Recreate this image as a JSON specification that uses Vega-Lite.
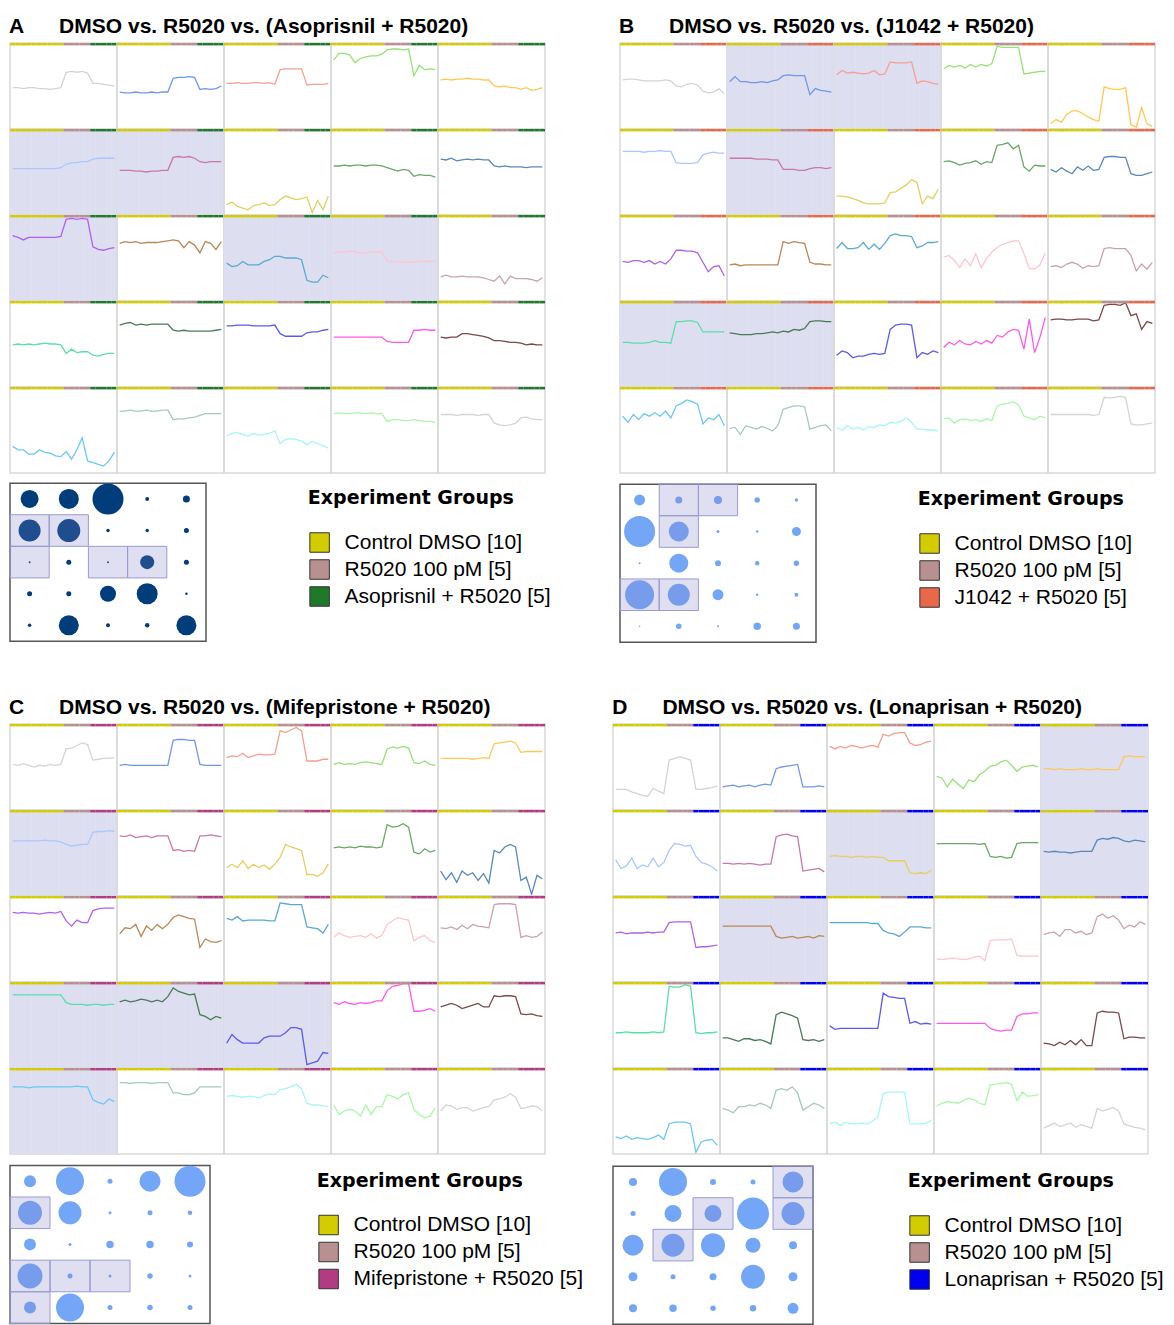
{
  "$schema": "https://vega.github.io/schema/vega-lite/v6.json",
  "background": "white",
  "padding": {"left": 8, "top": 15, "right": 0, "bottom": 0},
  "config": {
    "font": "Liberation Sans",
    "view": {"stroke": "#d9d9d9", "strokeWidth": 1.5},
    "title": {"color": "#000000"}
  },
  "datasets": {
    "spark": [
      {"p":"A","r":0,"c":0,"k":0,"h":0,"v":[0.48,0.48,0.47,0.48,0.48,0.47,0.47,0.46,0.47,0.48,0.66,0.67,0.66,0.67,0.65,0.53,0.53,0.52,0.51,0.50]},
      {"p":"A","r":0,"c":1,"k":1,"h":0,"v":[0.43,0.42,0.42,0.43,0.42,0.42,0.43,0.42,0.43,0.43,0.59,0.60,0.60,0.61,0.60,0.46,0.47,0.46,0.47,0.50]},
      {"p":"A","r":0,"c":2,"k":2,"h":0,"v":[0.53,0.53,0.54,0.53,0.53,0.54,0.54,0.53,0.54,0.52,0.69,0.70,0.70,0.70,0.70,0.51,0.52,0.52,0.52,0.53]},
      {"p":"A","r":0,"c":3,"k":3,"h":0,"v":[0.80,0.88,0.88,0.86,0.77,0.82,0.84,0.85,0.85,0.87,0.92,0.93,0.93,0.92,0.93,0.62,0.74,0.69,0.70,0.69]},
      {"p":"A","r":0,"c":4,"k":4,"h":0,"v":[0.57,0.58,0.57,0.58,0.58,0.59,0.58,0.58,0.57,0.57,0.50,0.49,0.50,0.48,0.48,0.46,0.48,0.45,0.46,0.48]},
      {"p":"A","r":1,"c":0,"k":5,"h":1,"v":[0.54,0.54,0.54,0.54,0.54,0.54,0.54,0.54,0.54,0.55,0.59,0.61,0.61,0.62,0.62,0.65,0.66,0.66,0.66,0.66]},
      {"p":"A","r":1,"c":1,"k":6,"h":1,"v":[0.52,0.52,0.52,0.51,0.51,0.50,0.51,0.51,0.52,0.52,0.67,0.68,0.67,0.68,0.66,0.62,0.61,0.62,0.62,0.62]},
      {"p":"A","r":1,"c":2,"k":7,"h":0,"v":[0.12,0.15,0.10,0.08,0.06,0.11,0.12,0.14,0.11,0.12,0.18,0.22,0.20,0.18,0.19,0.21,0.03,0.17,0.06,0.22]},
      {"p":"A","r":1,"c":3,"k":8,"h":0,"v":[0.57,0.57,0.58,0.57,0.58,0.58,0.57,0.58,0.58,0.57,0.55,0.53,0.51,0.53,0.52,0.45,0.47,0.46,0.46,0.44]},
      {"p":"A","r":1,"c":4,"k":9,"h":0,"v":[0.65,0.64,0.66,0.63,0.64,0.65,0.64,0.65,0.64,0.64,0.57,0.56,0.57,0.56,0.56,0.56,0.55,0.56,0.56,0.56]},
      {"p":"A","r":2,"c":0,"k":10,"h":1,"v":[0.76,0.74,0.71,0.74,0.74,0.74,0.74,0.74,0.74,0.75,0.95,0.96,0.95,0.96,0.95,0.63,0.60,0.59,0.61,0.62]},
      {"p":"A","r":2,"c":1,"k":11,"h":0,"v":[0.67,0.69,0.68,0.69,0.67,0.68,0.68,0.68,0.69,0.70,0.71,0.70,0.62,0.69,0.65,0.56,0.69,0.67,0.60,0.69]},
      {"p":"A","r":2,"c":2,"k":12,"h":1,"v":[0.44,0.40,0.41,0.46,0.42,0.42,0.42,0.46,0.48,0.52,0.52,0.50,0.50,0.50,0.48,0.24,0.22,0.22,0.30,0.27]},
      {"p":"A","r":2,"c":3,"k":13,"h":1,"v":[0.56,0.57,0.57,0.58,0.57,0.56,0.56,0.57,0.57,0.57,0.47,0.45,0.46,0.45,0.46,0.45,0.46,0.46,0.46,0.46]},
      {"p":"A","r":2,"c":4,"k":14,"h":0,"v":[0.28,0.30,0.28,0.28,0.29,0.28,0.28,0.28,0.27,0.25,0.23,0.29,0.20,0.29,0.26,0.26,0.26,0.25,0.23,0.27]},
      {"p":"A","r":3,"c":0,"k":15,"h":0,"v":[0.49,0.50,0.49,0.50,0.49,0.50,0.51,0.50,0.50,0.49,0.39,0.44,0.40,0.41,0.41,0.37,0.36,0.38,0.39,0.39]},
      {"p":"A","r":3,"c":1,"k":16,"h":0,"v":[0.72,0.74,0.75,0.72,0.73,0.72,0.73,0.73,0.73,0.73,0.66,0.65,0.66,0.65,0.65,0.65,0.65,0.65,0.66,0.67]},
      {"p":"A","r":3,"c":2,"k":17,"h":0,"v":[0.71,0.71,0.72,0.72,0.72,0.71,0.71,0.71,0.71,0.72,0.62,0.59,0.59,0.59,0.59,0.63,0.64,0.64,0.66,0.67]},
      {"p":"A","r":3,"c":3,"k":18,"h":0,"v":[0.58,0.58,0.58,0.58,0.58,0.58,0.58,0.58,0.58,0.58,0.53,0.52,0.52,0.52,0.52,0.66,0.66,0.67,0.66,0.66]},
      {"p":"A","r":3,"c":4,"k":19,"h":0,"v":[0.58,0.57,0.58,0.58,0.62,0.62,0.61,0.60,0.59,0.57,0.54,0.54,0.53,0.52,0.52,0.51,0.49,0.50,0.49,0.49]},
      {"p":"A","r":4,"c":0,"k":20,"h":0,"v":[0.31,0.27,0.27,0.22,0.22,0.27,0.24,0.23,0.20,0.19,0.25,0.16,0.27,0.41,0.14,0.12,0.10,0.08,0.14,0.24]},
      {"p":"A","r":4,"c":1,"k":21,"h":0,"v":[0.72,0.72,0.73,0.72,0.72,0.73,0.72,0.72,0.73,0.73,0.62,0.63,0.63,0.64,0.65,0.67,0.69,0.69,0.69,0.69]},
      {"p":"A","r":4,"c":2,"k":22,"h":0,"v":[0.43,0.46,0.47,0.45,0.43,0.46,0.44,0.45,0.46,0.49,0.34,0.39,0.40,0.39,0.37,0.33,0.37,0.34,0.32,0.29]},
      {"p":"A","r":4,"c":3,"k":23,"h":0,"v":[0.69,0.70,0.69,0.69,0.70,0.70,0.69,0.70,0.69,0.69,0.60,0.62,0.62,0.61,0.61,0.62,0.61,0.60,0.60,0.59]},
      {"p":"A","r":4,"c":4,"k":24,"h":0,"v":[0.68,0.68,0.68,0.67,0.68,0.68,0.68,0.67,0.68,0.68,0.58,0.56,0.55,0.56,0.58,0.64,0.65,0.63,0.62,0.62]},

      {"p":"B","r":0,"c":0,"k":0,"h":0,"v":[0.57,0.58,0.58,0.57,0.56,0.56,0.56,0.56,0.57,0.56,0.50,0.49,0.52,0.53,0.51,0.44,0.42,0.43,0.47,0.41]},
      {"p":"B","r":0,"c":1,"k":1,"h":1,"v":[0.55,0.61,0.55,0.55,0.54,0.54,0.55,0.54,0.56,0.57,0.62,0.63,0.62,0.62,0.62,0.40,0.47,0.45,0.44,0.43]},
      {"p":"B","r":0,"c":2,"k":2,"h":1,"v":[0.63,0.68,0.65,0.66,0.65,0.64,0.65,0.68,0.63,0.64,0.78,0.77,0.77,0.77,0.78,0.53,0.56,0.55,0.53,0.52]},
      {"p":"B","r":0,"c":3,"k":3,"h":0,"v":[0.70,0.74,0.72,0.74,0.71,0.75,0.72,0.75,0.73,0.76,0.96,0.95,0.95,0.95,0.95,0.64,0.65,0.66,0.67,0.67]},
      {"p":"B","r":0,"c":4,"k":4,"h":0,"v":[0.06,0.11,0.08,0.17,0.21,0.21,0.18,0.14,0.11,0.09,0.49,0.47,0.46,0.46,0.48,0.05,0.02,0.25,0.06,0.03]},
      {"p":"B","r":1,"c":0,"k":5,"h":0,"v":[0.74,0.74,0.74,0.74,0.73,0.74,0.74,0.75,0.74,0.74,0.61,0.60,0.60,0.60,0.61,0.70,0.72,0.73,0.72,0.72]},
      {"p":"B","r":1,"c":1,"k":6,"h":1,"v":[0.66,0.66,0.66,0.66,0.66,0.65,0.65,0.65,0.64,0.64,0.53,0.53,0.53,0.52,0.52,0.54,0.55,0.55,0.54,0.55]},
      {"p":"B","r":1,"c":2,"k":7,"h":0,"v":[0.22,0.22,0.21,0.19,0.17,0.14,0.13,0.13,0.13,0.14,0.26,0.27,0.31,0.35,0.41,0.38,0.13,0.22,0.19,0.30]},
      {"p":"B","r":1,"c":3,"k":8,"h":0,"v":[0.62,0.63,0.61,0.58,0.60,0.61,0.63,0.59,0.62,0.61,0.81,0.82,0.84,0.77,0.81,0.56,0.51,0.58,0.57,0.57]},
      {"p":"B","r":1,"c":4,"k":9,"h":0,"v":[0.53,0.50,0.55,0.51,0.48,0.56,0.52,0.57,0.52,0.53,0.67,0.68,0.68,0.67,0.67,0.48,0.46,0.46,0.48,0.50]},
      {"p":"B","r":2,"c":0,"k":10,"h":0,"v":[0.46,0.45,0.47,0.47,0.45,0.47,0.43,0.46,0.43,0.49,0.59,0.59,0.58,0.58,0.56,0.45,0.34,0.40,0.41,0.29]},
      {"p":"B","r":2,"c":1,"k":11,"h":0,"v":[0.42,0.43,0.41,0.42,0.42,0.42,0.42,0.42,0.42,0.42,0.69,0.67,0.69,0.68,0.67,0.45,0.43,0.43,0.42,0.42]},
      {"p":"B","r":2,"c":2,"k":12,"h":0,"v":[0.61,0.68,0.61,0.61,0.62,0.68,0.60,0.66,0.60,0.67,0.76,0.78,0.76,0.76,0.75,0.62,0.64,0.68,0.68,0.69]},
      {"p":"B","r":2,"c":3,"k":13,"h":0,"v":[0.51,0.53,0.47,0.39,0.49,0.41,0.55,0.39,0.49,0.57,0.62,0.66,0.68,0.70,0.70,0.55,0.38,0.37,0.42,0.56]},
      {"p":"B","r":2,"c":4,"k":14,"h":0,"v":[0.40,0.41,0.39,0.43,0.45,0.43,0.38,0.41,0.40,0.41,0.61,0.62,0.61,0.61,0.61,0.53,0.35,0.43,0.37,0.45]},
      {"p":"B","r":3,"c":0,"k":15,"h":1,"v":[0.52,0.52,0.51,0.51,0.51,0.52,0.54,0.52,0.52,0.51,0.76,0.76,0.77,0.77,0.75,0.64,0.64,0.64,0.64,0.64]},
      {"p":"B","r":3,"c":1,"k":16,"h":1,"v":[0.63,0.62,0.61,0.61,0.61,0.62,0.62,0.63,0.64,0.63,0.65,0.64,0.67,0.66,0.68,0.76,0.77,0.77,0.76,0.76]},
      {"p":"B","r":3,"c":2,"k":17,"h":0,"v":[0.37,0.42,0.40,0.34,0.36,0.36,0.38,0.39,0.38,0.39,0.67,0.72,0.73,0.73,0.72,0.34,0.40,0.38,0.42,0.40]},
      {"p":"B","r":3,"c":3,"k":18,"h":0,"v":[0.46,0.52,0.49,0.54,0.50,0.49,0.53,0.50,0.54,0.51,0.60,0.58,0.64,0.67,0.66,0.44,0.79,0.40,0.58,0.81]},
      {"p":"B","r":3,"c":4,"k":19,"h":0,"v":[0.78,0.79,0.79,0.78,0.78,0.79,0.79,0.79,0.77,0.78,0.95,0.96,0.96,0.95,0.98,0.83,0.85,0.67,0.76,0.74]},
      {"p":"B","r":4,"c":0,"k":20,"h":0,"v":[0.66,0.59,0.68,0.62,0.69,0.66,0.70,0.66,0.72,0.64,0.78,0.81,0.85,0.83,0.80,0.57,0.64,0.62,0.68,0.55]},
      {"p":"B","r":4,"c":1,"k":21,"h":0,"v":[0.52,0.53,0.45,0.55,0.53,0.51,0.54,0.52,0.49,0.55,0.74,0.76,0.78,0.78,0.77,0.51,0.53,0.55,0.56,0.49]},
      {"p":"B","r":4,"c":2,"k":22,"h":0,"v":[0.53,0.50,0.55,0.51,0.53,0.50,0.54,0.53,0.56,0.55,0.59,0.58,0.60,0.64,0.59,0.51,0.51,0.50,0.50,0.49]},
      {"p":"B","r":4,"c":3,"k":23,"h":0,"v":[0.63,0.64,0.58,0.62,0.63,0.61,0.62,0.60,0.63,0.61,0.78,0.80,0.81,0.83,0.79,0.66,0.64,0.62,0.66,0.64]},
      {"p":"B","r":4,"c":4,"k":24,"h":0,"v":[0.68,0.68,0.68,0.68,0.68,0.68,0.68,0.68,0.67,0.68,0.88,0.87,0.88,0.89,0.88,0.57,0.56,0.56,0.57,0.58]},

      {"p":"C","r":0,"c":0,"k":0,"h":0,"v":[0.53,0.52,0.54,0.52,0.50,0.52,0.51,0.53,0.52,0.53,0.71,0.72,0.75,0.78,0.76,0.58,0.59,0.60,0.60,0.61]},
      {"p":"C","r":0,"c":1,"k":1,"h":0,"v":[0.52,0.53,0.52,0.52,0.52,0.52,0.52,0.52,0.52,0.52,0.81,0.82,0.82,0.81,0.81,0.53,0.52,0.52,0.52,0.52]},
      {"p":"C","r":0,"c":2,"k":2,"h":0,"v":[0.61,0.63,0.62,0.66,0.61,0.63,0.65,0.64,0.64,0.65,0.92,0.90,0.93,0.96,0.92,0.57,0.57,0.57,0.59,0.59]},
      {"p":"C","r":0,"c":3,"k":3,"h":0,"v":[0.53,0.55,0.53,0.54,0.53,0.55,0.56,0.55,0.54,0.53,0.71,0.73,0.72,0.74,0.72,0.55,0.54,0.57,0.53,0.52]},
      {"p":"C","r":0,"c":4,"k":4,"h":0,"v":[0.60,0.60,0.60,0.60,0.60,0.60,0.59,0.60,0.61,0.60,0.77,0.78,0.79,0.80,0.78,0.67,0.68,0.68,0.68,0.68]},
      {"p":"C","r":1,"c":0,"k":5,"h":1,"v":[0.64,0.64,0.64,0.64,0.64,0.64,0.65,0.64,0.64,0.63,0.60,0.58,0.59,0.60,0.60,0.74,0.75,0.75,0.76,0.75]},
      {"p":"C","r":1,"c":1,"k":6,"h":0,"v":[0.70,0.69,0.71,0.68,0.69,0.70,0.68,0.70,0.70,0.70,0.53,0.54,0.52,0.53,0.52,0.70,0.70,0.71,0.70,0.69]},
      {"p":"C","r":1,"c":2,"k":7,"h":0,"v":[0.33,0.37,0.33,0.41,0.32,0.37,0.33,0.36,0.31,0.37,0.45,0.60,0.57,0.55,0.53,0.25,0.25,0.23,0.27,0.37]},
      {"p":"C","r":1,"c":3,"k":8,"h":0,"v":[0.56,0.57,0.56,0.57,0.56,0.58,0.57,0.57,0.56,0.57,0.83,0.80,0.81,0.84,0.80,0.51,0.49,0.55,0.51,0.53]},
      {"p":"C","r":1,"c":4,"k":9,"h":0,"v":[0.29,0.19,0.27,0.16,0.29,0.24,0.27,0.18,0.26,0.15,0.53,0.50,0.57,0.60,0.57,0.18,0.22,0.02,0.24,0.20]},
      {"p":"C","r":2,"c":0,"k":10,"h":0,"v":[0.81,0.80,0.81,0.80,0.80,0.79,0.80,0.81,0.80,0.82,0.71,0.65,0.72,0.69,0.69,0.83,0.85,0.86,0.86,0.86]},
      {"p":"C","r":2,"c":1,"k":11,"h":0,"v":[0.56,0.63,0.62,0.67,0.53,0.65,0.60,0.67,0.62,0.67,0.75,0.78,0.76,0.74,0.73,0.40,0.50,0.47,0.46,0.48]},
      {"p":"C","r":2,"c":2,"k":12,"h":0,"v":[0.74,0.72,0.76,0.71,0.72,0.72,0.72,0.72,0.71,0.71,0.92,0.91,0.90,0.90,0.90,0.64,0.63,0.62,0.57,0.67]},
      {"p":"C","r":2,"c":3,"k":13,"h":0,"v":[0.52,0.57,0.54,0.52,0.53,0.54,0.52,0.56,0.51,0.54,0.67,0.71,0.75,0.73,0.72,0.48,0.52,0.54,0.48,0.46]},
      {"p":"C","r":2,"c":4,"k":14,"h":0,"v":[0.63,0.62,0.64,0.61,0.66,0.62,0.67,0.65,0.64,0.63,0.90,0.91,0.91,0.91,0.90,0.52,0.54,0.52,0.53,0.58]},
      {"p":"C","r":3,"c":0,"k":15,"h":1,"v":[0.85,0.85,0.85,0.85,0.85,0.85,0.85,0.85,0.85,0.85,0.76,0.74,0.74,0.74,0.73,0.74,0.74,0.73,0.74,0.74]},
      {"p":"C","r":3,"c":1,"k":16,"h":1,"v":[0.77,0.79,0.77,0.78,0.80,0.79,0.77,0.79,0.77,0.83,0.93,0.89,0.87,0.85,0.86,0.62,0.60,0.56,0.60,0.58]},
      {"p":"C","r":3,"c":2,"k":17,"h":1,"v":[0.29,0.39,0.33,0.29,0.29,0.29,0.29,0.35,0.37,0.37,0.37,0.41,0.47,0.47,0.45,0.04,0.06,0.08,0.18,0.17]},
      {"p":"C","r":3,"c":3,"k":18,"h":0,"v":[0.76,0.74,0.77,0.75,0.74,0.76,0.75,0.76,0.78,0.78,0.90,0.95,0.96,0.98,0.98,0.66,0.66,0.67,0.69,0.66]},
      {"p":"C","r":3,"c":4,"k":19,"h":0,"v":[0.71,0.73,0.75,0.73,0.69,0.71,0.73,0.75,0.71,0.71,0.84,0.83,0.84,0.84,0.83,0.63,0.62,0.63,0.61,0.60]},
      {"p":"C","r":4,"c":0,"k":20,"h":1,"v":[0.78,0.78,0.78,0.77,0.78,0.78,0.78,0.78,0.78,0.78,0.78,0.78,0.79,0.78,0.78,0.63,0.60,0.58,0.64,0.61]},
      {"p":"C","r":4,"c":1,"k":21,"h":0,"v":[0.83,0.83,0.82,0.83,0.83,0.83,0.82,0.83,0.83,0.83,0.71,0.71,0.69,0.69,0.71,0.78,0.78,0.78,0.78,0.78]},
      {"p":"C","r":4,"c":2,"k":22,"h":0,"v":[0.67,0.68,0.67,0.66,0.67,0.67,0.65,0.68,0.70,0.69,0.75,0.76,0.78,0.81,0.76,0.59,0.57,0.57,0.56,0.55]},
      {"p":"C","r":4,"c":3,"k":23,"h":0,"v":[0.57,0.46,0.50,0.52,0.50,0.44,0.57,0.46,0.55,0.55,0.69,0.67,0.64,0.69,0.71,0.52,0.46,0.42,0.44,0.54]},
      {"p":"C","r":4,"c":4,"k":24,"h":0,"v":[0.50,0.57,0.56,0.52,0.54,0.54,0.50,0.52,0.54,0.55,0.63,0.64,0.66,0.70,0.66,0.53,0.54,0.56,0.55,0.50]},

      {"p":"D","r":0,"c":0,"k":0,"h":0,"v":[0.24,0.24,0.24,0.21,0.19,0.17,0.16,0.25,0.22,0.19,0.58,0.60,0.62,0.60,0.58,0.24,0.24,0.25,0.26,0.28]},
      {"p":"D","r":0,"c":1,"k":1,"h":0,"v":[0.27,0.28,0.29,0.27,0.28,0.29,0.27,0.29,0.30,0.29,0.48,0.50,0.51,0.52,0.53,0.27,0.27,0.27,0.28,0.27]},
      {"p":"D","r":0,"c":2,"k":2,"h":0,"v":[0.74,0.71,0.74,0.72,0.75,0.74,0.72,0.74,0.75,0.73,0.88,0.86,0.89,0.90,0.90,0.78,0.75,0.76,0.79,0.80]},
      {"p":"D","r":0,"c":3,"k":3,"h":0,"v":[0.39,0.37,0.27,0.36,0.30,0.25,0.35,0.33,0.41,0.45,0.51,0.52,0.56,0.58,0.52,0.45,0.50,0.51,0.52,0.50]},
      {"p":"D","r":0,"c":4,"k":4,"h":1,"v":[0.48,0.48,0.47,0.48,0.47,0.47,0.47,0.48,0.47,0.47,0.48,0.47,0.47,0.47,0.47,0.62,0.63,0.62,0.62,0.62]},
      {"p":"D","r":1,"c":0,"k":5,"h":0,"v":[0.42,0.32,0.35,0.44,0.32,0.36,0.34,0.44,0.34,0.39,0.53,0.61,0.60,0.58,0.59,0.46,0.39,0.37,0.34,0.29]},
      {"p":"D","r":1,"c":1,"k":6,"h":0,"v":[0.38,0.38,0.37,0.38,0.37,0.38,0.37,0.36,0.37,0.37,0.69,0.71,0.72,0.70,0.69,0.29,0.30,0.31,0.32,0.28]},
      {"p":"D","r":1,"c":2,"k":7,"h":1,"v":[0.46,0.47,0.46,0.46,0.45,0.46,0.46,0.45,0.46,0.45,0.45,0.41,0.41,0.41,0.41,0.27,0.26,0.27,0.26,0.30]},
      {"p":"D","r":1,"c":3,"k":8,"h":0,"v":[0.61,0.61,0.61,0.61,0.61,0.61,0.61,0.61,0.60,0.61,0.46,0.45,0.46,0.44,0.45,0.61,0.62,0.62,0.62,0.62]},
      {"p":"D","r":1,"c":4,"k":9,"h":1,"v":[0.52,0.51,0.52,0.51,0.51,0.50,0.51,0.52,0.52,0.52,0.65,0.67,0.66,0.68,0.67,0.64,0.63,0.65,0.64,0.63]},
      {"p":"D","r":2,"c":0,"k":10,"h":0,"v":[0.57,0.58,0.56,0.57,0.57,0.57,0.58,0.57,0.58,0.58,0.69,0.70,0.70,0.70,0.70,0.40,0.41,0.41,0.42,0.43]},
      {"p":"D","r":2,"c":1,"k":11,"h":1,"v":[0.65,0.65,0.65,0.65,0.65,0.65,0.65,0.65,0.65,0.65,0.53,0.51,0.52,0.53,0.51,0.52,0.53,0.51,0.54,0.53]},
      {"p":"D","r":2,"c":2,"k":12,"h":0,"v":[0.69,0.69,0.69,0.69,0.69,0.69,0.69,0.69,0.68,0.68,0.60,0.57,0.56,0.53,0.58,0.64,0.64,0.64,0.63,0.63]},
      {"p":"D","r":2,"c":3,"k":13,"h":0,"v":[0.27,0.26,0.27,0.28,0.27,0.26,0.27,0.29,0.30,0.25,0.48,0.49,0.49,0.49,0.50,0.31,0.30,0.30,0.30,0.30]},
      {"p":"D","r":2,"c":4,"k":14,"h":0,"v":[0.55,0.57,0.58,0.53,0.61,0.61,0.57,0.59,0.55,0.57,0.76,0.79,0.74,0.77,0.72,0.62,0.66,0.64,0.70,0.67]},
      {"p":"D","r":3,"c":0,"k":15,"h":0,"v":[0.41,0.41,0.42,0.41,0.41,0.41,0.41,0.42,0.41,0.42,0.95,0.94,0.94,0.97,0.95,0.41,0.40,0.41,0.41,0.42]},
      {"p":"D","r":3,"c":1,"k":16,"h":0,"v":[0.35,0.35,0.33,0.31,0.34,0.34,0.32,0.33,0.31,0.28,0.62,0.65,0.63,0.61,0.58,0.33,0.32,0.33,0.31,0.33]},
      {"p":"D","r":3,"c":2,"k":17,"h":0,"v":[0.49,0.45,0.46,0.46,0.46,0.46,0.46,0.46,0.46,0.46,0.87,0.83,0.82,0.81,0.81,0.52,0.54,0.51,0.52,0.51]},
      {"p":"D","r":3,"c":3,"k":18,"h":0,"v":[0.52,0.52,0.52,0.52,0.52,0.52,0.52,0.52,0.52,0.52,0.46,0.44,0.43,0.44,0.44,0.60,0.63,0.63,0.64,0.64]},
      {"p":"D","r":3,"c":4,"k":19,"h":0,"v":[0.29,0.28,0.26,0.30,0.27,0.32,0.27,0.33,0.26,0.26,0.64,0.66,0.65,0.65,0.64,0.34,0.36,0.36,0.35,0.35]},
      {"p":"D","r":4,"c":0,"k":20,"h":0,"v":[0.20,0.18,0.21,0.17,0.19,0.18,0.17,0.19,0.22,0.17,0.35,0.37,0.37,0.37,0.35,0.02,0.14,0.16,0.17,0.10]},
      {"p":"D","r":4,"c":1,"k":21,"h":0,"v":[0.53,0.51,0.48,0.55,0.55,0.57,0.56,0.59,0.57,0.53,0.74,0.76,0.74,0.78,0.71,0.51,0.55,0.59,0.57,0.53]},
      {"p":"D","r":4,"c":2,"k":22,"h":0,"v":[0.35,0.37,0.33,0.37,0.35,0.35,0.36,0.35,0.38,0.43,0.70,0.72,0.72,0.72,0.72,0.35,0.35,0.35,0.36,0.39]},
      {"p":"D","r":4,"c":3,"k":23,"h":0,"v":[0.56,0.59,0.61,0.60,0.59,0.62,0.65,0.63,0.59,0.57,0.80,0.81,0.82,0.83,0.81,0.62,0.72,0.67,0.68,0.69]},
      {"p":"D","r":4,"c":4,"k":24,"h":0,"v":[0.30,0.33,0.36,0.32,0.34,0.36,0.31,0.34,0.32,0.30,0.53,0.50,0.52,0.54,0.50,0.35,0.33,0.31,0.30,0.28]}
    ],
    "bub": [
      {"p":"A","r":0,"d":[18,20,31,4,7],"h":[0,0,0,0,0]},
      {"p":"A","r":1,"d":[22,23,3.5,3.5,5],"h":[1,1,0,0,0]},
      {"p":"A","r":2,"d":[2,5,2,14,5],"h":[1,0,1,1,0]},
      {"p":"A","r":3,"d":[5,5,16,21,2.5],"h":[0,0,0,0,0]},
      {"p":"A","r":4,"d":[3.5,20,4,4.5,20],"h":[0,0,0,0,0]},
      {"p":"B","r":0,"d":[11,7,8,5.5,3.5],"h":[0,1,1,0,0]},
      {"p":"B","r":1,"d":[31,20,3,2.5,9],"h":[0,1,0,0,0]},
      {"p":"B","r":2,"d":[2,19,6,4.5,5.5],"h":[0,0,0,0,0]},
      {"p":"B","r":3,"d":[29,22,11,2.5,4],"h":[1,1,0,0,0]},
      {"p":"B","r":4,"d":[1.5,5.5,2,7.5,7],"h":[0,0,0,0,0]},
      {"p":"C","r":0,"d":[12,28,5,21,31],"h":[0,0,0,0,0]},
      {"p":"C","r":1,"d":[24,23,3,5,4.5],"h":[1,0,0,0,0]},
      {"p":"C","r":2,"d":[12,3,7.5,7.5,6],"h":[0,0,0,0,0]},
      {"p":"C","r":3,"d":[25,5,3,5.5,3],"h":[1,1,1,0,0]},
      {"p":"C","r":4,"d":[12,28,5,5.5,5],"h":[1,0,0,0,0]},
      {"p":"D","r":0,"d":[8,28,6,5,21],"h":[0,0,0,0,1]},
      {"p":"D","r":1,"d":[5,17,17,32,23],"h":[0,0,1,0,1]},
      {"p":"D","r":2,"d":[21,23,24,15,8],"h":[0,1,0,0,0]},
      {"p":"D","r":3,"d":[9,5,7,24,9],"h":[0,0,0,0,0]},
      {"p":"D","r":4,"d":[8,7.5,5.5,6.5,11],"h":[0,0,0,0,0]}
    ],
    "groups": [
      {"p":"A","o":0,"g":"d","label":"Control DMSO [10]"},
      {"p":"A","o":1,"g":"s","label":"R5020 100 pM [5]"},
      {"p":"A","o":2,"g":"t","label":"Asoprisnil + R5020 [5]"},
      {"p":"B","o":0,"g":"d","label":"Control DMSO [10]"},
      {"p":"B","o":1,"g":"s","label":"R5020 100 pM [5]"},
      {"p":"B","o":2,"g":"t","label":"J1042 + R5020 [5]"},
      {"p":"C","o":0,"g":"d","label":"Control DMSO [10]"},
      {"p":"C","o":1,"g":"s","label":"R5020 100 pM [5]"},
      {"p":"C","o":2,"g":"t","label":"Mifepristone + R5020 [5]"},
      {"p":"D","o":0,"g":"d","label":"Control DMSO [10]"},
      {"p":"D","o":1,"g":"s","label":"R5020 100 pM [5]"},
      {"p":"D","o":2,"g":"t","label":"Lonaprisan + R5020 [5]"}
    ]
  },
  "resolve": {"scale": {"fill": "independent"}},
  "spacing": 53,
  "vconcat": [
    {
      "resolve": {"scale": {"fill": "independent"}},
      "spacing": 66,
      "hconcat": [
        {
          "resolve": {"scale": {"fill": "independent"}},
          "spacing": 8,
          "vconcat": [
            {
              "data": {"name": "spark"},
              "transform": [
                {"filter": "datum.p == 'A'"},
                {"flatten": ["v"]},
                {"window": [{"op": "row_number", "as": "i"}], "groupby": ["r", "c"]}
              ],
              "title": {"text": "A\u00a0\u00a0\u00a0\u00a0\u00a0\u00a0DMSO vs. R5020 vs. (Asoprisnil + R5020)", "fontSize": 21, "fontWeight": "bold", "anchor": "start", "baseline": "alphabetic", "offset": -12},
              "facet": {"row": {"field": "r", "type": "ordinal", "title": null, "header": {"labels": false}}, "column": {"field": "c", "type": "ordinal", "title": null, "header": {"labels": false}}},
              "spacing": 0,
              "bounds": "flush",
              "spec": {
                "width": 107, "height": 86,
                "layer": [
                  {"transform": [{"filter": "datum.h == 1"}], "mark": {"type": "rect", "fill": "#dedef1", "stroke": "#dedef1", "strokeWidth": 0.6}, "encoding": {
                    "x": {"field": "i", "type": "ordinal", "axis": null},
                    "y": {"datum": 0, "axis": null},
                    "y2": {"datum": 1}
                  }},
                  {"mark": {"type": "line", "strokeWidth": 1.3}, "encoding": {
                    "x": {"field": "i", "type": "ordinal", "axis": null},
                    "y": {"field": "v", "type": "quantitative", "scale": {"domain": [0, 1]}, "axis": null},
                    "stroke": {"field": "k", "type": "nominal", "legend": null, "scale": {"domain": [0,1,2,3,4,5,6,7,8,9,10,11,12,13,14,15,16,17,18,19,20,21,22,23,24], "range": ["#d4d4d4","#6f98e8","#f4a090","#98e078","#ffc855","#a8c8ff","#c878a8","#e2d060","#6aa868","#5a88b8","#b060f0","#b88858","#5aaad0","#ffc4cc","#c8a4ac","#58e0a8","#4a7a56","#5a5af0","#ff58e8","#7a4848","#68c8f8","#a8c8c4","#a8f4f8","#a8f8a8","#d4d4d4"]}}
                  }},
                  {"mark": {"type": "rect"}, "encoding": {
                    "x": {"field": "i", "type": "ordinal", "axis": null},
                    "y": {"datum": 1, "axis": null},
                    "y2": {"datum": 0.972},
                    "fill": {"field": "i", "type": "ordinal", "legend": null, "scale": {"domain": [1,2,3,4,5,6,7,8,9,10,11,12,13,14,15,16,17,18,19,20], "range": ["#d2cc00","#d2cc00","#d2cc00","#d2cc00","#d2cc00","#d2cc00","#d2cc00","#d2cc00","#d2cc00","#d2cc00","#b89090","#b89090","#b89090","#b89090","#b89090","#1e7a2a","#1e7a2a","#1e7a2a","#1e7a2a","#1e7a2a"]}}
                  }}
                ]
              }
            },
            {
              "resolve": {"scale": {"fill": "independent"}},
              "spacing": 100,
              "center": true,
              "hconcat": [
                {
                  "width": 196, "height": 158,
                  "view": {"stroke": "#555555", "strokeWidth": 1.5},
                  "data": {"name": "bub"},
                  "transform": [
                    {"filter": "datum.p == 'A'"},
                    {"flatten": ["d", "h"]},
                    {"window": [{"op": "row_number", "as": "c"}], "groupby": ["r"]}
                  ],
                  "layer": [
                    {"mark": {"type": "circle", "color": "#003d7a", "opacity": 1}, "encoding": {
                      "x": {"field": "c", "type": "ordinal", "scale": {"type": "band", "paddingInner": 0, "paddingOuter": 0}, "axis": null},
                      "y": {"field": "r", "type": "ordinal", "scale": {"type": "band", "paddingInner": 0, "paddingOuter": 0}, "axis": null},
                      "size": {"field": "d", "type": "quantitative", "legend": null, "scale": {"type": "pow", "exponent": 2, "domain": [0, 32], "range": [0, 1024]}}
                    }},
                    {"transform": [{"filter": "datum.h == 1"}], "mark": {"type": "rect", "fill": "#8080c8", "fillOpacity": 0.25, "stroke": "#9a9ad2", "strokeWidth": 1}, "encoding": {
                      "x": {"field": "c", "type": "ordinal"},
                      "y": {"field": "r", "type": "ordinal"}
                    }}
                  ]
                },
                {
                  "width": 240, "height": 81,
                  "view": {"stroke": "transparent"},
                  "title": {"text": "Experiment Groups", "font": "DejaVu Sans", "fontSize": 19, "fontWeight": "bold", "anchor": "start", "offset": 8},
                  "data": {"name": "groups"},
                  "transform": [{"filter": "datum.p == 'A'"}],
                  "layer": [
                    {"mark": {"type": "point", "shape": "square", "filled": true, "size": 380, "stroke": "#333333", "strokeWidth": 1, "opacity": 1}, "encoding": {
                      "x": {"datum": 0.4, "type": "quantitative", "scale": {"domain": [0, 10]}, "axis": null},
                      "y": {"field": "o", "type": "ordinal", "axis": null, "scale": {"range": [26.5, 80.5], "padding": 0}},
                      "fill": {"field": "g", "type": "nominal", "legend": null, "scale": {"domain": ["d", "s", "t"], "range": ["#d2cc00", "#b89090", "#1e7a2a"]}}
                    }},
                    {"mark": {"type": "text", "align": "left", "dx": 25, "fontSize": 21}, "encoding": {
                      "x": {"datum": 0.4, "type": "quantitative"},
                      "y": {"field": "o", "type": "ordinal"},
                      "text": {"field": "label"}
                    }}
                  ]
                }
              ]
            }
          ]
        },
        {
          "resolve": {"scale": {"fill": "independent"}},
          "spacing": 8,
          "vconcat": [
            {
              "data": {"name": "spark"},
              "transform": [
                {"filter": "datum.p == 'B'"},
                {"flatten": ["v"]},
                {"window": [{"op": "row_number", "as": "i"}], "groupby": ["r", "c"]}
              ],
              "title": {"text": "B\u00a0\u00a0\u00a0\u00a0\u00a0\u00a0DMSO vs. R5020 vs. (J1042 + R5020)", "fontSize": 21, "fontWeight": "bold", "anchor": "start", "baseline": "alphabetic", "offset": -12},
              "facet": {"row": {"field": "r", "type": "ordinal", "title": null, "header": {"labels": false}}, "column": {"field": "c", "type": "ordinal", "title": null, "header": {"labels": false}}},
              "spacing": 0,
              "bounds": "flush",
              "spec": {
                "width": 107, "height": 86,
                "layer": [
                  {"transform": [{"filter": "datum.h == 1"}], "mark": {"type": "rect", "fill": "#dedef1", "stroke": "#dedef1", "strokeWidth": 0.6}, "encoding": {
                    "x": {"field": "i", "type": "ordinal", "axis": null},
                    "y": {"datum": 0, "axis": null},
                    "y2": {"datum": 1}
                  }},
                  {"mark": {"type": "line", "strokeWidth": 1.3}, "encoding": {
                    "x": {"field": "i", "type": "ordinal", "axis": null},
                    "y": {"field": "v", "type": "quantitative", "scale": {"domain": [0, 1]}, "axis": null},
                    "stroke": {"field": "k", "type": "nominal", "legend": null, "scale": {"domain": [0,1,2,3,4,5,6,7,8,9,10,11,12,13,14,15,16,17,18,19,20,21,22,23,24], "range": ["#d4d4d4","#6f98e8","#f4a090","#98e078","#ffc855","#a8c8ff","#c878a8","#e2d060","#6aa868","#5a88b8","#b060f0","#b88858","#5aaad0","#ffc4cc","#c8a4ac","#58e0a8","#4a7a56","#5a5af0","#ff58e8","#7a4848","#68c8f8","#a8c8c4","#a8f4f8","#a8f8a8","#d4d4d4"]}}
                  }},
                  {"mark": {"type": "rect"}, "encoding": {
                    "x": {"field": "i", "type": "ordinal", "axis": null},
                    "y": {"datum": 1, "axis": null},
                    "y2": {"datum": 0.972},
                    "fill": {"field": "i", "type": "ordinal", "legend": null, "scale": {"domain": [1,2,3,4,5,6,7,8,9,10,11,12,13,14,15,16,17,18,19,20], "range": ["#d2cc00","#d2cc00","#d2cc00","#d2cc00","#d2cc00","#d2cc00","#d2cc00","#d2cc00","#d2cc00","#d2cc00","#b89090","#b89090","#b89090","#b89090","#b89090","#e8684a","#e8684a","#e8684a","#e8684a","#e8684a"]}}
                  }}
                ]
              }
            },
            {
              "resolve": {"scale": {"fill": "independent"}},
              "spacing": 100,
              "center": true,
              "hconcat": [
                {
                  "width": 196, "height": 158,
                  "view": {"stroke": "#555555", "strokeWidth": 1.5},
                  "data": {"name": "bub"},
                  "transform": [
                    {"filter": "datum.p == 'B'"},
                    {"flatten": ["d", "h"]},
                    {"window": [{"op": "row_number", "as": "c"}], "groupby": ["r"]}
                  ],
                  "layer": [
                    {"mark": {"type": "circle", "color": "#74a6f8", "opacity": 1}, "encoding": {
                      "x": {"field": "c", "type": "ordinal", "scale": {"type": "band", "paddingInner": 0, "paddingOuter": 0}, "axis": null},
                      "y": {"field": "r", "type": "ordinal", "scale": {"type": "band", "paddingInner": 0, "paddingOuter": 0}, "axis": null},
                      "size": {"field": "d", "type": "quantitative", "legend": null, "scale": {"type": "pow", "exponent": 2, "domain": [0, 32], "range": [0, 1024]}}
                    }},
                    {"transform": [{"filter": "datum.h == 1"}], "mark": {"type": "rect", "fill": "#8080c8", "fillOpacity": 0.25, "stroke": "#9a9ad2", "strokeWidth": 1}, "encoding": {
                      "x": {"field": "c", "type": "ordinal"},
                      "y": {"field": "r", "type": "ordinal"}
                    }}
                  ]
                },
                {
                  "width": 240, "height": 81,
                  "view": {"stroke": "transparent"},
                  "title": {"text": "Experiment Groups", "font": "DejaVu Sans", "fontSize": 19, "fontWeight": "bold", "anchor": "start", "offset": 8},
                  "data": {"name": "groups"},
                  "transform": [{"filter": "datum.p == 'B'"}],
                  "layer": [
                    {"mark": {"type": "point", "shape": "square", "filled": true, "size": 380, "stroke": "#333333", "strokeWidth": 1, "opacity": 1}, "encoding": {
                      "x": {"datum": 0.4, "type": "quantitative", "scale": {"domain": [0, 10]}, "axis": null},
                      "y": {"field": "o", "type": "ordinal", "axis": null, "scale": {"range": [26.5, 80.5], "padding": 0}},
                      "fill": {"field": "g", "type": "nominal", "legend": null, "scale": {"domain": ["d", "s", "t"], "range": ["#d2cc00", "#b89090", "#e8684a"]}}
                    }},
                    {"mark": {"type": "text", "align": "left", "dx": 25, "fontSize": 21}, "encoding": {
                      "x": {"datum": 0.4, "type": "quantitative"},
                      "y": {"field": "o", "type": "ordinal"},
                      "text": {"field": "label"}
                    }}
                  ]
                }
              ]
            }
          ]
        }
      ]
    },
    {
      "resolve": {"scale": {"fill": "independent"}},
      "spacing": 28,
      "hconcat": [
        {
          "resolve": {"scale": {"fill": "independent"}},
          "spacing": 8,
          "vconcat": [
            {
              "data": {"name": "spark"},
              "transform": [
                {"filter": "datum.p == 'C'"},
                {"flatten": ["v"]},
                {"window": [{"op": "row_number", "as": "i"}], "groupby": ["r", "c"]}
              ],
              "title": {"text": "C\u00a0\u00a0\u00a0\u00a0\u00a0\u00a0DMSO vs. R5020 vs. (Mifepristone + R5020)", "fontSize": 21, "fontWeight": "bold", "anchor": "start", "baseline": "alphabetic", "offset": -12},
              "facet": {"row": {"field": "r", "type": "ordinal", "title": null, "header": {"labels": false}}, "column": {"field": "c", "type": "ordinal", "title": null, "header": {"labels": false}}},
              "spacing": 0,
              "bounds": "flush",
              "spec": {
                "width": 107, "height": 86,
                "layer": [
                  {"transform": [{"filter": "datum.h == 1"}], "mark": {"type": "rect", "fill": "#dedef1", "stroke": "#dedef1", "strokeWidth": 0.6}, "encoding": {
                    "x": {"field": "i", "type": "ordinal", "axis": null},
                    "y": {"datum": 0, "axis": null},
                    "y2": {"datum": 1}
                  }},
                  {"mark": {"type": "line", "strokeWidth": 1.3}, "encoding": {
                    "x": {"field": "i", "type": "ordinal", "axis": null},
                    "y": {"field": "v", "type": "quantitative", "scale": {"domain": [0, 1]}, "axis": null},
                    "stroke": {"field": "k", "type": "nominal", "legend": null, "scale": {"domain": [0,1,2,3,4,5,6,7,8,9,10,11,12,13,14,15,16,17,18,19,20,21,22,23,24], "range": ["#d4d4d4","#6f98e8","#f4a090","#98e078","#ffc855","#a8c8ff","#c878a8","#e2d060","#6aa868","#5a88b8","#b060f0","#b88858","#5aaad0","#ffc4cc","#c8a4ac","#58e0a8","#4a7a56","#5a5af0","#ff58e8","#7a4848","#68c8f8","#a8c8c4","#a8f4f8","#a8f8a8","#d4d4d4"]}}
                  }},
                  {"mark": {"type": "rect"}, "encoding": {
                    "x": {"field": "i", "type": "ordinal", "axis": null},
                    "y": {"datum": 1, "axis": null},
                    "y2": {"datum": 0.972},
                    "fill": {"field": "i", "type": "ordinal", "legend": null, "scale": {"domain": [1,2,3,4,5,6,7,8,9,10,11,12,13,14,15,16,17,18,19,20], "range": ["#d2cc00","#d2cc00","#d2cc00","#d2cc00","#d2cc00","#d2cc00","#d2cc00","#d2cc00","#d2cc00","#d2cc00","#b89090","#b89090","#b89090","#b89090","#b89090","#b23c82","#b23c82","#b23c82","#b23c82","#b23c82"]}}
                  }}
                ]
              }
            },
            {
              "resolve": {"scale": {"fill": "independent"}},
              "spacing": 105,
              "center": true,
              "hconcat": [
                {
                  "width": 200, "height": 158,
                  "view": {"stroke": "#555555", "strokeWidth": 1.5},
                  "data": {"name": "bub"},
                  "transform": [
                    {"filter": "datum.p == 'C'"},
                    {"flatten": ["d", "h"]},
                    {"window": [{"op": "row_number", "as": "c"}], "groupby": ["r"]}
                  ],
                  "layer": [
                    {"mark": {"type": "circle", "color": "#74a6f8", "opacity": 1}, "encoding": {
                      "x": {"field": "c", "type": "ordinal", "scale": {"type": "band", "paddingInner": 0, "paddingOuter": 0}, "axis": null},
                      "y": {"field": "r", "type": "ordinal", "scale": {"type": "band", "paddingInner": 0, "paddingOuter": 0}, "axis": null},
                      "size": {"field": "d", "type": "quantitative", "legend": null, "scale": {"type": "pow", "exponent": 2, "domain": [0, 32], "range": [0, 1024]}}
                    }},
                    {"transform": [{"filter": "datum.h == 1"}], "mark": {"type": "rect", "fill": "#8080c8", "fillOpacity": 0.25, "stroke": "#9a9ad2", "strokeWidth": 1}, "encoding": {
                      "x": {"field": "c", "type": "ordinal"},
                      "y": {"field": "r", "type": "ordinal"}
                    }}
                  ]
                },
                {
                  "width": 240, "height": 81,
                  "view": {"stroke": "transparent"},
                  "title": {"text": "Experiment Groups", "font": "DejaVu Sans", "fontSize": 19, "fontWeight": "bold", "anchor": "start", "offset": 8},
                  "data": {"name": "groups"},
                  "transform": [{"filter": "datum.p == 'C'"}],
                  "layer": [
                    {"mark": {"type": "point", "shape": "square", "filled": true, "size": 380, "stroke": "#333333", "strokeWidth": 1, "opacity": 1}, "encoding": {
                      "x": {"datum": 0.4, "type": "quantitative", "scale": {"domain": [0, 10]}, "axis": null},
                      "y": {"field": "o", "type": "ordinal", "axis": null, "scale": {"range": [26.5, 80.5], "padding": 0}},
                      "fill": {"field": "g", "type": "nominal", "legend": null, "scale": {"domain": ["d", "s", "t"], "range": ["#d2cc00", "#b89090", "#b23c82"]}}
                    }},
                    {"mark": {"type": "text", "align": "left", "dx": 25, "fontSize": 21}, "encoding": {
                      "x": {"datum": 0.4, "type": "quantitative"},
                      "y": {"field": "o", "type": "ordinal"},
                      "text": {"field": "label"}
                    }}
                  ]
                }
              ]
            }
          ]
        },
        {
          "resolve": {"scale": {"fill": "independent"}},
          "spacing": 8,
          "vconcat": [
            {
              "data": {"name": "spark"},
              "transform": [
                {"filter": "datum.p == 'D'"},
                {"flatten": ["v"]},
                {"window": [{"op": "row_number", "as": "i"}], "groupby": ["r", "c"]}
              ],
              "title": {"text": "D\u00a0\u00a0\u00a0\u00a0\u00a0\u00a0DMSO vs. R5020 vs. (Lonaprisan + R5020)", "fontSize": 21, "fontWeight": "bold", "anchor": "start", "baseline": "alphabetic", "offset": -12},
              "facet": {"row": {"field": "r", "type": "ordinal", "title": null, "header": {"labels": false}}, "column": {"field": "c", "type": "ordinal", "title": null, "header": {"labels": false}}},
              "spacing": 0,
              "bounds": "flush",
              "spec": {
                "width": 107, "height": 86,
                "layer": [
                  {"transform": [{"filter": "datum.h == 1"}], "mark": {"type": "rect", "fill": "#dedef1", "stroke": "#dedef1", "strokeWidth": 0.6}, "encoding": {
                    "x": {"field": "i", "type": "ordinal", "axis": null},
                    "y": {"datum": 0, "axis": null},
                    "y2": {"datum": 1}
                  }},
                  {"mark": {"type": "line", "strokeWidth": 1.3}, "encoding": {
                    "x": {"field": "i", "type": "ordinal", "axis": null},
                    "y": {"field": "v", "type": "quantitative", "scale": {"domain": [0, 1]}, "axis": null},
                    "stroke": {"field": "k", "type": "nominal", "legend": null, "scale": {"domain": [0,1,2,3,4,5,6,7,8,9,10,11,12,13,14,15,16,17,18,19,20,21,22,23,24], "range": ["#d4d4d4","#6f98e8","#f4a090","#98e078","#ffc855","#a8c8ff","#c878a8","#e2d060","#6aa868","#5a88b8","#b060f0","#b88858","#5aaad0","#ffc4cc","#c8a4ac","#58e0a8","#4a7a56","#5a5af0","#ff58e8","#7a4848","#68c8f8","#a8c8c4","#a8f4f8","#a8f8a8","#d4d4d4"]}}
                  }},
                  {"mark": {"type": "rect"}, "encoding": {
                    "x": {"field": "i", "type": "ordinal", "axis": null},
                    "y": {"datum": 1, "axis": null},
                    "y2": {"datum": 0.972},
                    "fill": {"field": "i", "type": "ordinal", "legend": null, "scale": {"domain": [1,2,3,4,5,6,7,8,9,10,11,12,13,14,15,16,17,18,19,20], "range": ["#d2cc00","#d2cc00","#d2cc00","#d2cc00","#d2cc00","#d2cc00","#d2cc00","#d2cc00","#d2cc00","#d2cc00","#b89090","#b89090","#b89090","#b89090","#b89090","#0000f0","#0000f0","#0000f0","#0000f0","#0000f0"]}}
                  }}
                ]
              }
            },
            {
              "resolve": {"scale": {"fill": "independent"}},
              "spacing": 92,
              "center": true,
              "hconcat": [
                {
                  "width": 200, "height": 158,
                  "view": {"stroke": "#555555", "strokeWidth": 1.5},
                  "data": {"name": "bub"},
                  "transform": [
                    {"filter": "datum.p == 'D'"},
                    {"flatten": ["d", "h"]},
                    {"window": [{"op": "row_number", "as": "c"}], "groupby": ["r"]}
                  ],
                  "layer": [
                    {"mark": {"type": "circle", "color": "#74a6f8", "opacity": 1}, "encoding": {
                      "x": {"field": "c", "type": "ordinal", "scale": {"type": "band", "paddingInner": 0, "paddingOuter": 0}, "axis": null},
                      "y": {"field": "r", "type": "ordinal", "scale": {"type": "band", "paddingInner": 0, "paddingOuter": 0}, "axis": null},
                      "size": {"field": "d", "type": "quantitative", "legend": null, "scale": {"type": "pow", "exponent": 2, "domain": [0, 32], "range": [0, 1024]}}
                    }},
                    {"transform": [{"filter": "datum.h == 1"}], "mark": {"type": "rect", "fill": "#8080c8", "fillOpacity": 0.25, "stroke": "#9a9ad2", "strokeWidth": 1}, "encoding": {
                      "x": {"field": "c", "type": "ordinal"},
                      "y": {"field": "r", "type": "ordinal"}
                    }}
                  ]
                },
                {
                  "width": 240, "height": 81,
                  "view": {"stroke": "transparent"},
                  "title": {"text": "Experiment Groups", "font": "DejaVu Sans", "fontSize": 19, "fontWeight": "bold", "anchor": "start", "offset": 8},
                  "data": {"name": "groups"},
                  "transform": [{"filter": "datum.p == 'D'"}],
                  "layer": [
                    {"mark": {"type": "point", "shape": "square", "filled": true, "size": 380, "stroke": "#333333", "strokeWidth": 1, "opacity": 1}, "encoding": {
                      "x": {"datum": 0.4, "type": "quantitative", "scale": {"domain": [0, 10]}, "axis": null},
                      "y": {"field": "o", "type": "ordinal", "axis": null, "scale": {"range": [26.5, 80.5], "padding": 0}},
                      "fill": {"field": "g", "type": "nominal", "legend": null, "scale": {"domain": ["d", "s", "t"], "range": ["#d2cc00", "#b89090", "#0000f0"]}}
                    }},
                    {"mark": {"type": "text", "align": "left", "dx": 25, "fontSize": 21}, "encoding": {
                      "x": {"datum": 0.4, "type": "quantitative"},
                      "y": {"field": "o", "type": "ordinal"},
                      "text": {"field": "label"}
                    }}
                  ]
                }
              ]
            }
          ]
        }
      ]
    }
  ]
}
